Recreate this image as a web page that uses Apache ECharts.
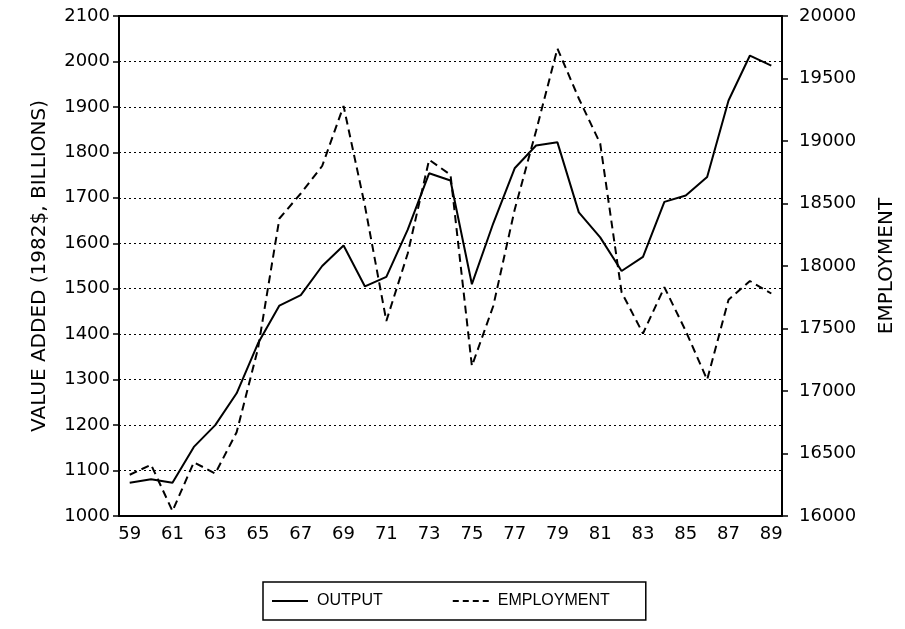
<!DOCTYPE html>
<html>
<head>
<meta charset="utf-8">
<script src="https://cdn.jsdelivr.net/npm/echarts@6/dist/echarts.min.js"></script>
<style>
  html, body { margin: 0; padding: 0; background: #fff; }
  #chart { width: 905px; height: 629px; }
</style>
</head>
<body>
<div id="chart"></div>
<script>
// years 1959-1989
var years = ['59', '60', '61', '62', '63', '64', '65', '66', '67', '68', '69',
    '70', '71', '72', '73', '74', '75', '76', '77', '78', '79',
    '80', '81', '82', '83', '84', '85', '86', '87', '88', '89'];

// value added, 1982$ billions (left axis)
var output = [1073, 1081, 1073, 1152, 1200, 1270, 1380, 1463, 1486, 1550, 1595,
    1505, 1526, 1630, 1754, 1738, 1510, 1644, 1765, 1815, 1822,
    1668, 1613, 1539, 1570, 1691, 1705, 1746, 1914, 2013, 1991];

// employment (right axis)
var employment = [16330, 16410, 16040, 16430, 16340, 16670, 17340, 18380, 18580, 18800, 19280,
    18480, 17560, 18100, 18850, 18730, 17200, 17680, 18450, 19080, 19740,
    19340, 18980, 17790, 17460, 17830, 17480, 17090, 17730, 17880, 17780];

var axisFont = { color: '#000', fontSize: 18, fontFamily: 'DejaVu Sans' };
var nameFont = { color: '#000', fontSize: 20, fontFamily: 'DejaVu Sans' };
var plain = function (v) { return String(v); };

var myChart = echarts.init(document.getElementById('chart'));
myChart.setOption({
    backgroundColor: '#fff',
    animation: false,
    grid: { left: 119, right: 118, top: 16, bottom: 113 },
    legend: {
        top: 582,
        left: 263,
        data: [
            { name: 'OUTPUT', icon: 'path://M0,0h36v2h-36z' },
            { name: 'EMPLOYMENT', icon: 'path://M0,0h6v2h-6z M10,0h6v2h-6z M20,0h6v2h-6z M30,0h6v2h-6z' }
        ],
        borderColor: '#000',
        borderWidth: 1.5,
        borderRadius: 0,
        padding: [10, 36, 10, 9],
        itemGap: 70,
        itemWidth: 36,
        itemHeight: 2,
        textStyle: { color: '#000', fontSize: 16, fontFamily: 'Liberation Sans', padding: [0, 0, 0, 4], lineHeight: 18 }
    },
    xAxis: [
        {
            type: 'category',
            data: years,
            boundaryGap: true,
            axisLine: { lineStyle: { color: '#000', width: 2 } },
            axisTick: { alignWithLabel: true, interval: 0, length: 6, lineStyle: { color: '#000', width: 1.5 } },
            axisLabel: Object.assign({ interval: 1, margin: 9 }, axisFont),
            splitLine: { show: false }
        },
        {
            type: 'category',
            data: years,
            position: 'top',
            axisLine: { show: true, lineStyle: { color: '#000', width: 2 } },
            axisTick: { show: false },
            axisLabel: { show: false },
            splitLine: { show: false }
        }
    ],
    yAxis: [
        {
            type: 'value',
            min: 1000,
            max: 2100,
            interval: 100,
            name: 'VALUE ADDED (1982$, BILLIONS)',
            nameLocation: 'middle',
            nameGap: 69,
            nameTextStyle: nameFont,
            axisLine: { show: true, lineStyle: { color: '#000', width: 2 } },
            axisTick: { show: true, length: 6, lineStyle: { color: '#000', width: 1.5 } },
            axisLabel: Object.assign({ margin: 9, formatter: plain }, axisFont),
            splitLine: { show: true, lineStyle: { color: '#000', type: [2, 3], width: 1 } }
        },
        {
            type: 'value',
            min: 16000,
            max: 20000,
            interval: 500,
            name: 'EMPLOYMENT',
            nameLocation: 'middle',
            nameGap: 95,
            nameTextStyle: nameFont,
            axisLine: { show: true, lineStyle: { color: '#000', width: 2 } },
            axisTick: { show: true, length: 6, lineStyle: { color: '#000', width: 1.5 } },
            axisLabel: Object.assign({ margin: 17, formatter: plain }, axisFont),
            splitLine: { show: false }
        }
    ],
    series: [
        {
            name: 'OUTPUT',
            type: 'line',
            yAxisIndex: 0,
            data: output,
            symbol: 'none',
            lineStyle: { color: '#000', width: 2 },
            itemStyle: { color: '#000' }
        },
        {
            name: 'EMPLOYMENT',
            type: 'line',
            yAxisIndex: 1,
            data: employment,
            symbol: 'none',
            lineStyle: { color: '#000', width: 2, type: [8, 5] },
            itemStyle: { color: '#000' }
        }
    ]
});
</script>
</body>
</html>
